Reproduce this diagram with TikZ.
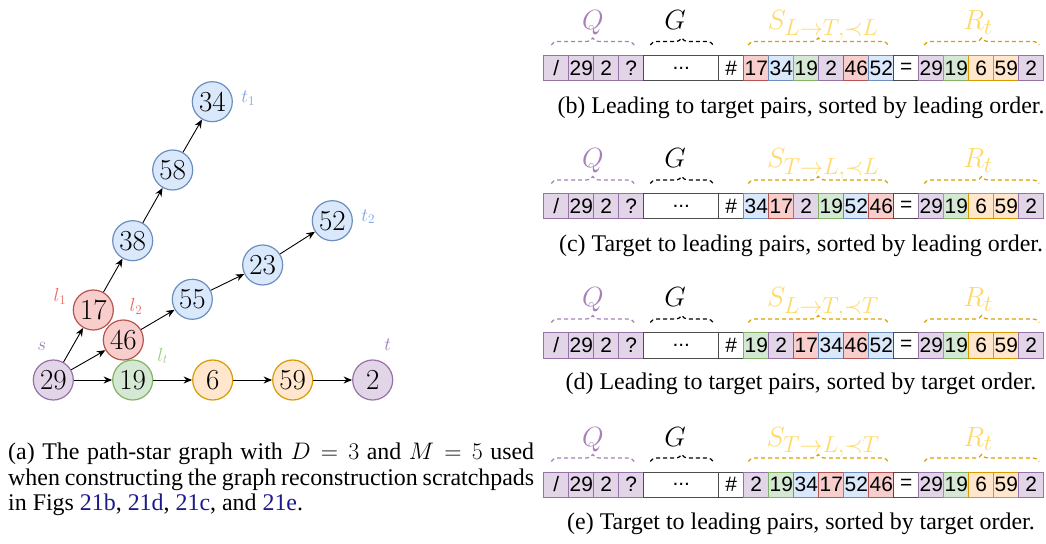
\RequirePackage{fix-cm}
\documentclass[tikz,border=0pt]{standalone}
\usepackage{graphicx}
\usepackage[no-math]{fontspec}
\setmainfont{Liberation Serif}
\newfontfamily\cellfont{Liberation Sans}
\usetikzlibrary{arrows.meta,decorations.pathreplacing}

% draw.io style palette
\definecolor{purpF}{HTML}{E1D5E7}\definecolor{purpD}{HTML}{9673A6}
\definecolor{redF}{HTML}{F8CECC}\definecolor{redD}{HTML}{B85450}
\definecolor{blueF}{HTML}{DAE8FC}\definecolor{blueD}{HTML}{6C8EBF}
\definecolor{greenF}{HTML}{D5E8D4}\definecolor{greenD}{HTML}{82B366}
\definecolor{oranF}{HTML}{FFE6CC}\definecolor{oranD}{HTML}{D79B00}
\definecolor{lblBlue}{HTML}{7EA6E0}\definecolor{lblRed}{HTML}{EA6B66}
\definecolor{lblGreen}{HTML}{97D077}\definecolor{lblPurp}{HTML}{A680B8}
\definecolor{lblYel}{HTML}{FFD966}\definecolor{braceGold}{HTML}{D6A100}
\definecolor{linkblue}{HTML}{1A1A8C}

% math set at a stock size and scaled to the wanted size
\newcommand\bigmath[2]{\scalebox{#1}{\fontsize{24.88}{26}\selectfont$#2$}}
\newcommand\vnum[1]{\bigmath{1.17}{#1}}
\newcommand\segname[1]{\bigmath{1.12}{#1}}
\newcommand\vname[1]{\scalebox{1.1}{\fontsize{17.28}{18}\selectfont$#1$}}

\tikzset{
  vtx/.style={circle, minimum size=40bp, inner sep=0pt, line width=1.2bp},
  vP/.style={vtx, fill=purpF, draw=purpD},
  vR/.style={vtx, fill=redF, draw=redD},
  vB/.style={vtx, fill=blueF, draw=blueD},
  vG/.style={vtx, fill=greenF, draw=greenD},
  vO/.style={vtx, fill=oranF, draw=oranD},
  vlabel/.style={inner sep=0pt},
  edge/.style={-{Stealth[length=8.5bp,width=7bp]}, line width=0.9bp},
  cell/.style={anchor=north west, minimum width=25bp, minimum height=25bp,
    inner sep=0pt, line width=0.9bp, font=\cellfont\fontsize{21}{21}\selectfont},
  cP/.style={fill=purpF, draw=purpD},
  cR/.style={fill=redF, draw=redD},
  cB/.style={fill=blueF, draw=blueD},
  cG/.style={fill=greenF, draw=greenD},
  cO/.style={fill=oranF, draw=oranD},
  cW/.style={fill=white, draw=black!70},
  dbrace/.style={decorate, decoration={brace, amplitude=7bp},
    line width=1.2bp, dash pattern=on 4bp off 3bp},
  blabel/.style={anchor=base, inner sep=0pt},
  caption/.style={inner sep=0pt, font=\fontsize{24}{26}\selectfont},
}

% one scratchpad: #1 top y, #2 row name, #3 the six pair cells,
% #4 subscript of S, #5 caption baseline, #6 caption text
\newcommand\seqrow[6]{%
  \foreach \t/\s [count=\i from 0] in {\slash/cP,29/cP,2/cP,?/cP}
    \node[cell,\s] (#2q\i) at ({543.3+25*\i},#1) {\t};
  \node[cell,cW,minimum width=75bp] (#2g) at (643.3,#1) {...};
  \node[cell,cW] (#2h) at (718.3,#1) {\#};
  \foreach \t/\s [count=\i from 0] in {#3}
    \node[cell,\s] (#2s\i) at ({743.3+25*\i},#1) {\t};
  \node[cell,cW] (#2e) at (893.3,#1) {=};
  \foreach \t/\s [count=\i from 0] in {29/cP,19/cG,6/cO,59/cO,2/cP}
    \node[cell,\s] (#2r\i) at ({918.3+25*\i},#1) {\t};
  % dashed braces over the segments
  \draw[dbrace, lblPurp] ([xshift=8bp,yshift=10bp]#2q0.north west) -- ([xshift=-10bp,yshift=10bp]#2q3.north east);
  \draw[dbrace, black] ([xshift=7bp,yshift=10bp]#2g.north west) -- ([xshift=-6bp,yshift=10bp]#2g.north east);
  \draw[dbrace, braceGold] ([xshift=5bp,yshift=10bp]#2s0.north west) -- ([xshift=-6bp,yshift=10bp]#2s5.north east);
  \draw[dbrace, braceGold] ([xshift=6bp,yshift=10bp]#2r0.north west) -- ([xshift=-5bp,yshift=10bp]#2r4.north east);
  % segment names
  \node[blabel, lblPurp] (#2lq) at (593,#1-25.5) {\segname{Q}};
  \node[blabel] (#2lg) at (675,#1-25.5) {\segname{G}};
  \node[blabel, lblYel] (#2ls) at (823,#1-25.5) {\segname{S_{#4}}};
  \node[blabel, lblYel] (#2lr) at (978,#1-25.5) {\segname{R_t}};
  \node[caption, anchor=base] (#2cap) at (801,#5) {#6};
}

\begin{document}
\begin{tikzpicture}[x=1bp, y=-1bp]
  \fill[white] (0,0) rectangle (1046,544);
  \useasboundingbox (0,0) rectangle (1046,544);

  % path-star graph
  \node[vB] (n34) at (212.3,101.7) {\vnum{34}};
  \node[vB] (n58) at (172.7,170) {\vnum{58}};
  \node[vB] (n38) at (132.7,240.7) {\vnum{38}};
  \node[vR] (n17) at (93.3,310) {\vnum{17}};
  \node[vR] (n46) at (123.3,340) {\vnum{46}};
  \node[vP] (n29) at (53.3,380) {\vnum{29}};
  \node[vG] (n19) at (132.7,380) {\vnum{19}};
  \node[vO] (n6)  at (212.7,380) {\vnum{6}};
  \node[vO] (n59) at (292.7,380) {\vnum{59}};
  \node[vP] (n2)  at (372.7,380) {\vnum{2}};
  \node[vB] (n55) at (192.3,299.3) {\vnum{55}};
  \node[vB] (n23) at (262.7,265) {\vnum{23}};
  \node[vB] (n52) at (332.3,220.7) {\vnum{52}};

  \draw[edge] (n29) -- (n17);
  \draw[edge] (n29) -- (n46);
  \draw[edge] (n29) -- (n19);
  \draw[edge] (n17) -- (n38);
  \draw[edge] (n38) -- (n58);
  \draw[edge] (n58) -- (n34);
  \draw[edge] (n46) -- (n55);
  \draw[edge] (n55) -- (n23);
  \draw[edge] (n23) -- (n52);
  \draw[edge] (n19) -- (n6);
  \draw[edge] (n6) -- (n59);
  \draw[edge] (n59) -- (n2);

  \node[vlabel, lblBlue]  (lt1) at (248.3,98.3)  {\vname{t_1}};
  \node[vlabel, lblBlue]  (lt2) at (368.3,216.7) {\vname{t_2}};
  \node[vlabel, lblRed]   (ll1) at (60,296.7)    {\vname{l_1}};
  \node[vlabel, lblRed]   (ll2) at (136,306.7)   {\vname{l_2}};
  \node[vlabel, lblPurp]  (ls)  at (41.7,346)    {\vname{s}};
  \node[vlabel, lblGreen] (llt) at (162.7,356)   {\vname{l_t}};
  \node[vlabel, lblPurp]  (lt)  at (387.7,345)   {\vname{t}};

  \node[caption, anchor=base west] (capa1) at (8,459)
    {\hbox to 526bp{(a) The path-star graph with $D=3$ and $M=5$ used}};
  \node[caption, anchor=base west] (capa2) at (8,485)
    {\hbox to 526bp{when constructing the graph reconstruction scratchpads}};
  \node[caption, anchor=base west] (capa3) at (8,510.5)
    {in Figs \textcolor{linkblue}{21b}, \textcolor{linkblue}{21d}, \textcolor{linkblue}{21c}, and \textcolor{linkblue}{21e}.};

  % scratchpad sequences
  \seqrow{55}{b}{17/cR,34/cB,19/cG,2/cP,46/cR,52/cB}{L\to T,\prec L}{114}
    {(b) Leading to target pairs, sorted by leading order.}
  \seqrow{193.5}{c}{34/cB,17/cR,2/cP,19/cG,52/cB,46/cR}{T\to L,\prec L}{251.5}
    {(c) Target to leading pairs, sorted by leading order.}
  \seqrow{332.5}{d}{19/cG,2/cP,17/cR,34/cB,46/cR,52/cB}{L\to T,\prec T}{389.5}
    {(d) Leading to target pairs, sorted by target order.}
  \seqrow{471.5}{e}{2/cP,19/cG,34/cB,17/cR,52/cB,46/cR}{T\to L,\prec T}{529.3}
    {(e) Target to leading pairs, sorted by target order.}
\end{tikzpicture}
\end{document}
